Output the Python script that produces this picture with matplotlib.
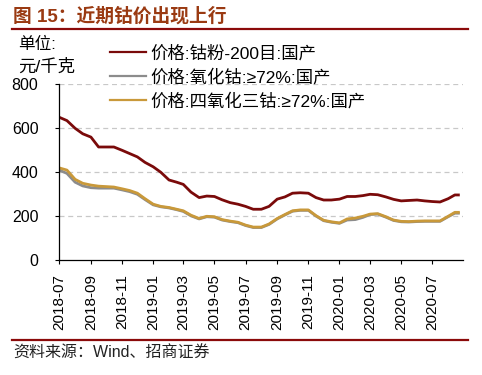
import matplotlib
matplotlib.use('Agg')
import matplotlib.pyplot as plt
import matplotlib.dates as mdates
from matplotlib.lines import Line2D
import pandas as pd

plt.rcParams['font.family'] = ['Liberation Sans', 'Noto Sans CJK SC']

# ============================================================
# Dados (~quinzenal)
# ============================================================
dates = pd.to_datetime([
    '2018-07-01', '2018-07-16', '2018-08-01', '2018-08-16', '2018-09-01', '2018-09-16',
    '2018-10-01', '2018-10-16', '2018-11-01', '2018-11-16', '2018-12-01', '2018-12-16',
    '2019-01-01', '2019-01-16', '2019-02-01', '2019-02-16', '2019-03-01', '2019-03-16',
    '2019-04-01', '2019-04-16', '2019-05-01', '2019-05-16', '2019-06-01', '2019-06-16',
    '2019-07-01', '2019-07-16', '2019-08-01', '2019-08-16', '2019-09-01', '2019-09-16',
    '2019-10-01', '2019-10-16', '2019-11-01', '2019-11-16', '2019-12-01', '2019-12-16',
    '2020-01-01', '2020-01-16', '2020-02-01', '2020-02-16', '2020-03-01', '2020-03-16',
    '2020-04-01', '2020-04-16', '2020-05-01', '2020-05-16', '2020-06-01', '2020-06-16',
    '2020-07-01', '2020-07-16', '2020-08-01', '2020-08-14', '2020-08-21',
])

cobalt_powder = [650, 635, 600, 575, 560, 515, 515, 515, 500, 485, 470, 445,
                 425, 400, 365, 355, 345, 310, 285, 292, 290, 275, 262, 255,
                 245, 232, 232, 245, 278, 288, 305, 307, 305, 285, 274, 274,
                 278, 290, 290, 294, 300, 298, 288, 277, 270, 272, 274, 270,
                 267, 265, 280, 297, 297]

cobalt_oxide = [410, 395, 355, 338, 330, 328, 328, 328, 320, 312, 300, 276,
                252, 243, 238, 230, 222, 202, 188, 198, 196, 183, 176, 171,
                158, 149, 149, 163, 188, 206, 223, 227, 227, 201, 180, 173,
                168, 183, 185, 195, 208, 210, 196, 181, 175, 174, 176, 177,
                177, 177, 198, 214, 214]

tricobalt_oxide = [420, 410, 368, 350, 342, 337, 335, 333, 325, 317, 305, 280,
                   255, 245, 240, 232, 225, 205, 190, 200, 198, 185, 178, 173,
                   160, 151, 151, 165, 190, 208, 225, 229, 229, 203, 182, 175,
                   170, 188, 192, 200, 210, 212, 198, 183, 177, 176, 178, 179,
                   179, 179, 200, 218, 218]

labels = ['价格:钴粉-200目:国产', '价格:氧化钴:≥72%:国产', '价格:四氧化三钴:≥72%:国产']
yticks = [0, 200, 400, 600, 800]

c_red = '#7A0A0A'
c_gray = '#8C8C8C'
c_gold = '#C9993A'
c_rule = '#8B0A0A'

# ============================================================
# Figura
# ============================================================
fig = plt.figure(figsize=(4.82, 3.75), dpi=100)
ax = fig.add_axes([0.1230, 0.3059, 0.8386, 0.4693])

l1, = ax.plot(dates, cobalt_powder, color=c_red, linewidth=2.0)
l2, = ax.plot(dates, cobalt_oxide, color=c_gray, linewidth=2.0)
l3, = ax.plot(dates, tricobalt_oxide, color=c_gold, linewidth=2.0)

ax.set_xlim(pd.Timestamp('2018-07-01'), pd.Timestamp('2020-08-31'))
ax.set_ylim(0, 800)
ax.set_yticks(yticks)
for v in yticks[1:]:
    ax.axhline(v, color='#C8C8C8', linestyle=(0, (4, 3)), linewidth=0.9, zorder=0)

ax.xaxis.set_major_locator(mdates.MonthLocator(bymonth=[1, 3, 5, 7, 9, 11]))
ax.xaxis.set_major_formatter(mdates.DateFormatter('%Y-%m'))
ax.tick_params(axis='x', labelrotation=90, labelsize=11, length=3, width=0.8, pad=7)
ax.tick_params(axis='y', labelsize=11.5, length=3, width=0.8, pad=12)

for s in ['top', 'right']:
    ax.spines[s].set_visible(False)
for s in ['left', 'bottom']:
    ax.spines[s].set_linewidth(0.9)

leg = ax.legend([l1, l2, l3], labels, loc='upper left',
                bbox_to_anchor=(110 / 482, 1 - 45 / 375), bbox_transform=fig.transFigure,
                frameon=False, fontsize=12.5, borderpad=0, borderaxespad=0,
                handlelength=2.1, handletextpad=0.25, labelspacing=0.42)
for h in leg.get_lines():
    h.set_linewidth(1.6)

# Texto do título e unidades
fig.text(13 / 482, 1 - 16 / 375, '图 15：近期钴价出现上行', fontsize=13.5, fontweight='bold',
         color='#9A3A12', va='center', ha='left')
fig.add_artist(Line2D([12 / 482, 468 / 482], [1 - 29 / 375, 1 - 29 / 375],
                      color=c_rule, linewidth=1.6))
fig.text(18 / 482, 1 - 44 / 375, '单位:', fontsize=12, va='center', ha='left')
fig.text(18 / 482, 1 - 67 / 375, '元/千克', fontsize=12.5, va='center', ha='left')

fig.add_artist(Line2D([12 / 482, 468 / 482], [1 - 340 / 375, 1 - 340 / 375],
                      color=c_rule, linewidth=1.6))
fig.text(13 / 482, 1 - 353 / 375, '资料来源：Wind、招商证券', fontsize=11.5,
         color='#222222', va='center', ha='left')

plt.savefig('out.png', dpi=100)
plt.close()
